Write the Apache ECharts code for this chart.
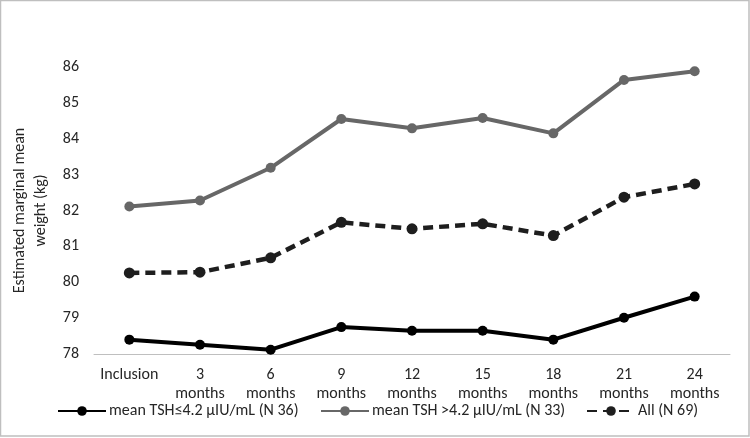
<!DOCTYPE html>
<html>
<head>
<meta charset="utf-8">
<script src="https://cdn.jsdelivr.net/npm/echarts@6/dist/echarts.min.js"></script>
<style>
html,body{margin:0;padding:0;background:#fff;}
#chart{width:750px;height:438px;}
</style>
</head>
<body>
<div id="chart"></div>
<script>
var categories = ['Inclusion', '3\nmonths', '6\nmonths', '9\nmonths', '12\nmonths', '15\nmonths', '18\nmonths', '21\nmonths', '24\nmonths'];
var seriesNames = ['mean TSH≤4.2 µIU/mL (N 36)', 'mean TSH >4.2 µIU/mL (N 33)', 'All (N 69)'];
var lowTSH = [78.40, 78.26, 78.12, 78.75, 78.65, 78.65, 78.40, 79.01, 79.60];
var highTSH = [82.11, 82.28, 83.19, 84.55, 84.29, 84.58, 84.15, 85.64, 85.88];
var allPatients = [80.26, 80.28, 80.68, 81.67, 81.49, 81.63, 81.30, 82.37, 82.74];
var yMin = 78, yMax = 86, yInterval = 1;
var yAxisTitle = 'Estimated marginal mean\nweight (kg)';

var FONT = 'Carlito, Calibri, "Liberation Sans", sans-serif';
var TXT = '#262626';
var chart = echarts.init(document.getElementById('chart'), null, {renderer: 'canvas'});

function legendAt(left, name) {
  return {
    left: left, top: 403, orient: 'horizontal', padding: 0,
    itemWidth: 48, itemHeight: 12, itemGap: 0,
    data: [name],
    textStyle: {fontFamily: FONT, fontSize: 16, color: TXT, padding: [0, 0, 0, -2]},
    selectedMode: false
  };
}

chart.setOption({
  animation: false,
  backgroundColor: '#fff',
  graphic: [{
    type: 'rect', silent: true,
    shape: {x: 0.5, y: 0.5, width: 748.5, height: 435.5},
    style: {fill: 'none', stroke: '#bfbfbf', lineWidth: 1.5}
  }],
  grid: {left: 94, right: 20, top: 67, bottom: 84, containLabel: false},
  legend: [legendAt(57, seriesNames[0]), legendAt(320, seriesNames[1]), legendAt(586, seriesNames[2])],
  xAxis: {
    type: 'category', data: categories, boundaryGap: true,
    axisLine: {show: true, lineStyle: {color: '#bfbfbf', width: 1}},
    axisTick: {show: false},
    axisLabel: {fontFamily: FONT, fontSize: 16, color: TXT, lineHeight: 19, margin: 11, interval: 0, verticalAlign: 'top'}
  },
  yAxis: {
    type: 'value', min: yMin, max: yMax, interval: yInterval,
    name: yAxisTitle, nameLocation: 'middle', nameRotate: 90, nameGap: 38.5,
    nameTextStyle: {fontFamily: FONT, fontSize: 16, color: TXT, lineHeight: 21, align: 'center'},
    axisLine: {show: false}, axisTick: {show: false}, splitLine: {show: false},
    axisLabel: {fontFamily: FONT, fontSize: 16, color: TXT, margin: 15}
  },
  series: [
    {
      name: seriesNames[0], type: 'line', data: lowTSH,
      symbol: 'circle', symbolSize: 10,
      lineStyle: {color: '#000', width: 4},
      itemStyle: {color: '#000'}
    },
    {
      name: seriesNames[1], type: 'line', data: highTSH,
      symbol: 'circle', symbolSize: 10,
      lineStyle: {color: '#676767', width: 4},
      itemStyle: {color: '#676767'}
    },
    {
      name: seriesNames[2], type: 'line', data: allPatients,
      symbol: 'circle', symbolSize: 11,
      lineStyle: {color: '#1e1e1e', width: 4.5, type: [10, 6]},
      itemStyle: {color: '#1e1e1e'}
    }
  ]
});
</script>
</body>
</html>
